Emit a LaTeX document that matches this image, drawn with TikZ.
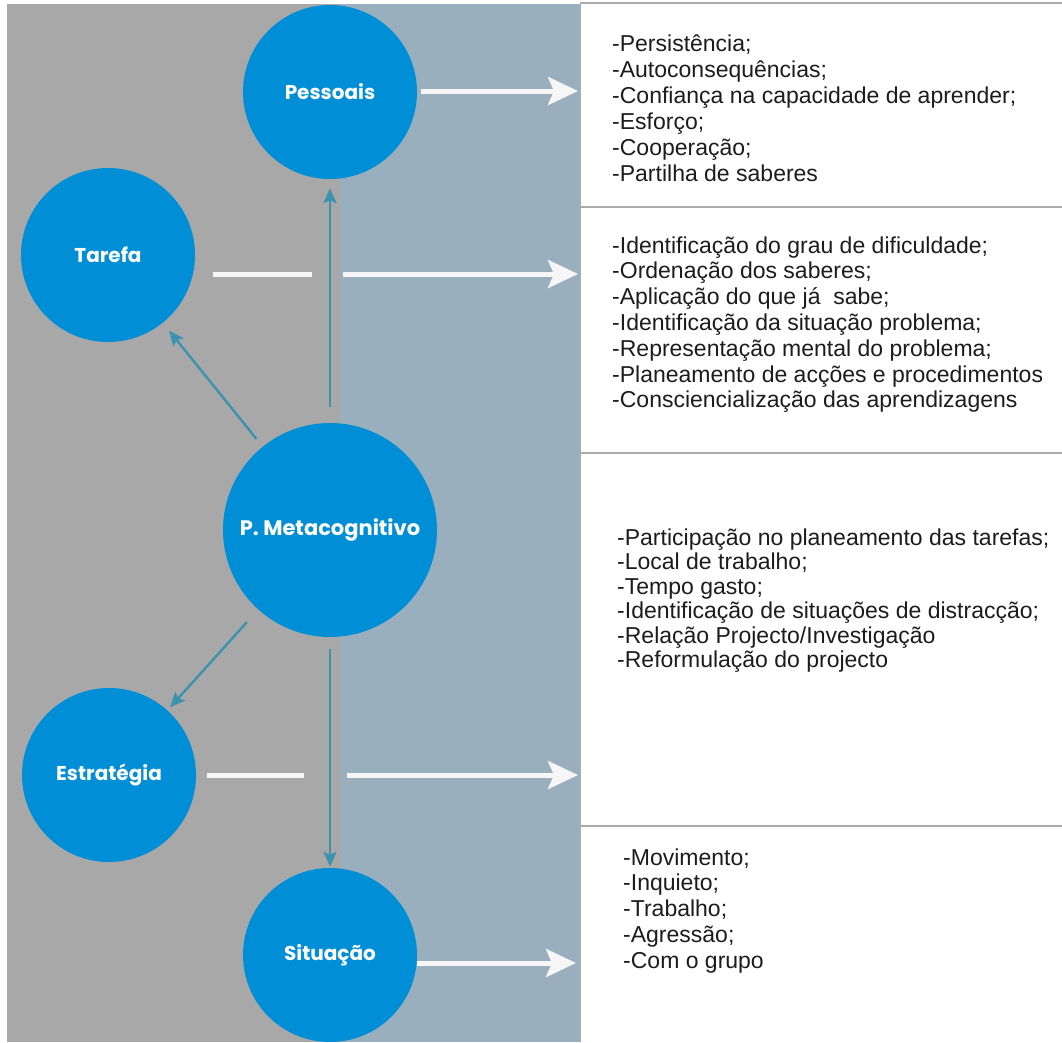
\documentclass[tikz,border=0pt]{standalone}
\usepackage{fontspec}
\setmainfont{Liberation Sans}
\newfontfamily\circfont{Poppins}
\usetikzlibrary{arrows.meta,shapes.geometric}

\definecolor{panelgray}{HTML}{A8A8A8}
\definecolor{panelblue}{HTML}{9AAFBE}
\definecolor{bubbleblue}{HTML}{008FD7}
\definecolor{linkteal}{HTML}{3B93AD}
\definecolor{flowwhite}{HTML}{F6F6F6}
\definecolor{ruleline}{HTML}{ABABAB}
\definecolor{listink}{HTML}{1C1C1C}

\begin{document}
\begin{tikzpicture}[x=1pt,y=-1pt,
  bubble/.style={circle, fill=bubbleblue, minimum size=174pt, inner sep=0pt,
    text=white, font=\circfont\bfseries\fontsize{20}{24}\selectfont},
  bigbubble/.style={bubble, minimum size=214pt, font=\circfont\bfseries\fontsize{21}{24}\selectfont},
  link/.style={draw=linkteal, line width=2.4pt,
    -{Stealth[length=15pt,width=13pt,inset=3pt]}},
  flow/.style={draw=flowwhite, line width=5pt},
  flowarrow/.style={flow, -{Stealth[length=30pt,width=28pt,inset=6pt]}},
  boxrule/.style={draw=ruleline, line width=1.6pt},
  itemtext/.style={anchor=base west, inner sep=0pt, text=listink,
    font=\fontsize{23}{26}\selectfont}]

% canvas
\useasboundingbox (0,0) rectangle (1062,1042);
\clip (0,0) rectangle (1062,1042);
\fill[white] (0,0) rectangle (1062,1042);
\fill[panelgray] (7,4) rectangle (340,1042);
\fill[panelblue] (340,4) rectangle (580,1042);

% list boxes on the right
\draw[boxrule] (580,3) -- (1062,3);
\draw[boxrule] (580,207) -- (1062,207);
\draw[boxrule] (580,453) -- (1062,453);
\draw[boxrule] (580,826) -- (1062,826);
\draw[ruleline, line width=1pt] (580.5,3) -- (580.5,1042);

% bubbles
\node[bubble]    (pess) at (330,92)  {Pessoais};
\node[bubble]    (tar)  at (108,255) {Tarefa};
\node[bigbubble] (meta) at (330,530) {P. Metacognitivo};
\node[bubble]    (estr) at (109,775) {Estratégia};
\node[bubble]    (sit)  at (330,955) {Situação};

% links from the central bubble
\draw[link, shorten <=16pt, shorten >=9pt] (meta.north) -- (pess.south);
\draw[link, shorten <=12pt, shorten >=1pt] (meta.south) -- (sit.north);
\draw[link, shorten <=10pt, shorten >=10pt] (meta) -- (tar);
\draw[link, shorten <=17pt, shorten >=4pt] (meta) -- (estr);

% targets on the list boxes
\coordinate (in1) at (578,91);
\coordinate (in2) at (578,274);
\coordinate (in3) at (578,775);
\coordinate (in4) at (576,963);
\coordinate (gapA) at (312,274);
\coordinate (gapB) at (343,274);
\coordinate (gapC) at (304,775);
\coordinate (gapD) at (347,775);

% white flow arrows
\draw[flowarrow, shorten <=4pt] (pess.east |- in1) -- (in1);
\draw[flow, shorten <=18pt] (tar.east |- in2) -- (gapA);
\draw[flowarrow] (gapB) -- (in2);
\draw[flow, shorten <=11pt] (estr.east |- in3) -- (gapC);
\draw[flowarrow] (gapD) -- (in3);
\draw[flowarrow] (sit.east |- in4) -- (in4);

% list texts
\foreach \t [count=\i] in {{-Persistência;},{-Autoconsequências;},
  {-Confiança na capacidade de aprender;},{-Esforço;},{-Cooperação;},
  {-Partilha de saberes}}
  \node[itemtext] (la\i) at (612,{51+(\i-1)*26}) {\t};

\foreach \t [count=\i] in {{-Identificação do grau de dificuldade;},
  {-Ordenação dos saberes;},{-Aplicação do que já~ sabe;},
  {-Identificação da situação problema;},{-Representação mental do problema;},
  {-Planeamento de acções e procedimentos},{-Consciencialização das aprendizagens}}
  \node[itemtext] (lb\i) at (612,{253+(\i-1)*25.8}) {\t};

\foreach \t [count=\i] in {{-Participação no planeamento das tarefas;},
  {-Local de trabalho;},{-Tempo gasto;},
  {-Identificação de situações de distracção;},
  {-Relação Projecto/Investigação},{-Reformulação do projecto}}
  \node[itemtext] (lc\i) at (617,{545+(\i-1)*24.5}) {\t};

\foreach \t [count=\i] in {{-Movimento;},{-Inquieto;},{-Trabalho;},
  {-Agressão;},{-Com o grupo}}
  \node[itemtext] (ld\i) at (623,{865+(\i-1)*25.8}) {\t};

\end{tikzpicture}
\end{document}
